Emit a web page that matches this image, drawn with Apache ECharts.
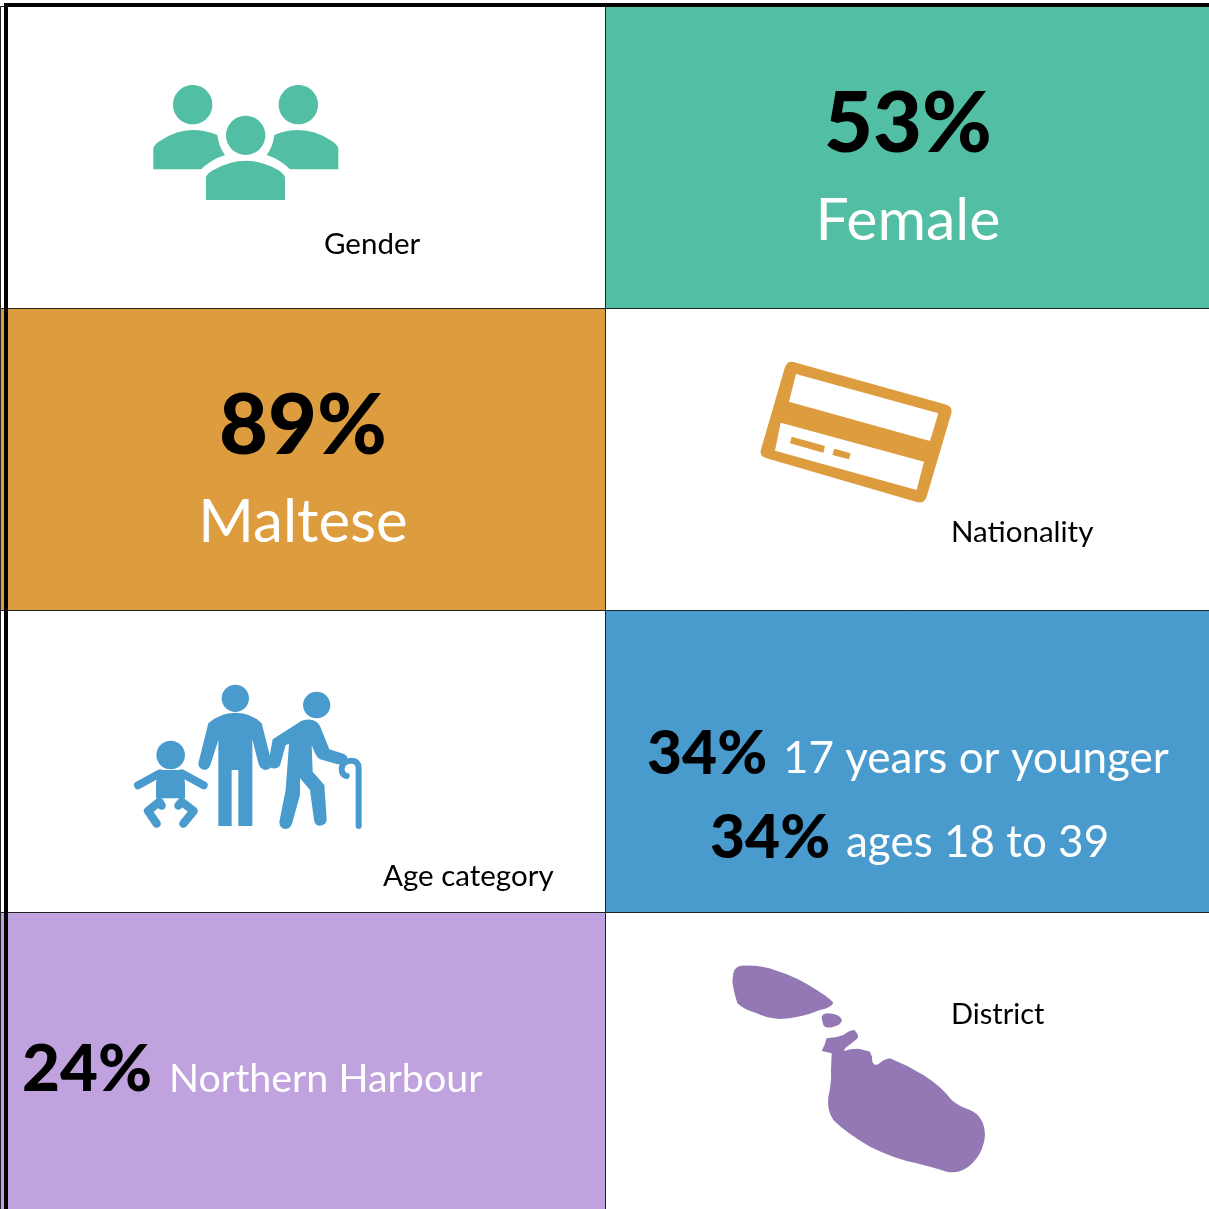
<!DOCTYPE html>
<html>
<head>
<meta charset="utf-8">
<title>Profile infographic</title>
<style>
  html, body { margin: 0; padding: 0; background: #fff; }
  #main { width: 1209px; height: 1209px; }
</style>
<script src="https://cdn.jsdelivr.net/npm/echarts@6/dist/echarts.min.js"></script>
</head>
<body>
<div id="main"></div>
<script>
// values
const categories = ['Gender', 'Nationality', 'Age category', 'District'];
const headlineValues = [53, 89];
const headlineNames = ['Female', 'Maltese'];
const ageValues = [34, 34];
const ageNames = ['17 years or younger', 'ages 18 to 39'];
const districtValues = [24];
const districtNames = ['Northern Harbour'];

// cell order in the table: [column, row]
const cellColumns = [0, 1, 0, 1, 0, 1, 0, 1];
const cellRows = [0, 0, 1, 1, 2, 2, 3, 3];

const GREEN = '#52bea3';
const ORANGE = '#dd9c3d';
const BLUE = '#4a9bcd';
const LILAC = '#bfa2de';
const PURPLE = '#9478b4';
const cellFill = ['#fff', GREEN, ORANGE, '#fff', '#fff', BLUE, LILAC, '#fff'];

const FONT = 'Lato, sans-serif';

// y is the text baseline; zrender centres on the line box so shift up to it
function label(text, x, y, size, color, weight, align) {
  return {
    type: 'text', z: 10, x: x, y: y - size * 0.33,
    style: {
      text: text, fill: color, font: (weight || 'normal') + ' ' + size + 'px ' + FONT,
      align: align || 'left', verticalAlign: 'middle'
    }
  };
}

// icons are traced at 3x, so they are scaled down by a third
function icon(x, y, children) {
  return { type: 'group', x: x, y: y, scaleX: 1 / 3, scaleY: 1 / 3, children: children };
}
function shape(d, fill) {
  return { type: 'path', shape: { pathData: d }, style: { fill: fill } };
}
function stroke(d, color, w) {
  return { type: 'path', shape: { pathData: d }, style: { fill: 'none', stroke: color, lineWidth: w, lineCap: 'round', lineJoin: 'round' } };
}
function disc(cx, cy, rx, ry, fill) {
  return { type: 'ellipse', shape: { cx: cx, cy: cy, rx: rx, ry: ry }, style: { fill: fill } };
}

const genderIcon = icon(120, 60, [
  disc(218, 134, 59, 59, GREEN), disc(535, 134, 59, 59, GREEN), disc(377, 226, 59, 59, GREEN),
  shape('M100 328 L100 265 Q105 250 125 240 Q170 210 218 210 Q255 210 292 225 Q296 260 315 285 Q275 298 243 328 Z', GREEN),
  shape('M655 328 L655 265 Q650 250 630 240 Q585 210 535 210 Q498 210 463 225 Q459 260 440 285 Q480 298 510 328 Z', GREEN),
  shape('M258 420 L258 352 Q262 338 285 328 Q330 302 377 302 Q425 302 470 328 Q490 338 495 352 L495 420 Z', GREEN)
]);

const cardIcon = icon(740, 350, [
  shape('M160 36 L615 163 Q640 170 634 190 L560 440 Q553 462 530 456 L80 325 Q55 318 64 295 L133 58 Q140 30 160 36 Z ' +
    'M168 72 L147 155 L570 273 L595 190 Z M122 218 L105 302 L530 420 L552 335 Z ' +
    'M155 260 L255 288 L250 308 L150 280 Z M283 296 L332 310 L327 328 L277 315 Z', ORANGE)
]);

const ageIcon = icon(120, 670, [
  // adult
  disc(346, 85, 41, 41, BLUE),
  shape('M265 160 Q300 128 346 128 Q395 128 425 160 L455 278 Q456 298 436 300 Q420 298 415 280 L397 207 L397 468 L355 468 L355 300 L335 300 L335 468 L295 468 L295 210 L273 280 Q268 298 255 300 Q235 298 235 280 Z', BLUE),
  // elder and cane
  disc(590, 105, 41, 40, BLUE),
  shape('M458 208 L545 152 Q585 140 600 168 L628 238 L672 252 Q690 262 678 278 Q665 285 650 282 L600 268 Q590 262 585 250 L575 225 L578 305 L613 345 L620 448 Q620 465 600 467 Q585 468 582 450 L570 360 L540 325 L540 375 L517 458 Q512 476 497 477 Q478 475 478 455 L497 360 L507 222 L497 225 L482 280 Q480 292 468 295 Q445 298 445 280 Z', BLUE),
  stroke('M716 468 L716 295 Q716 272 695 272 Q668 272 665 295 Q665 316 680 318', BLUE, 18),
  // baby
  disc(152, 255, 43, 43, BLUE),
  shape('M115 300 L190 300 L195 340 L195 385 L108 385 L108 340 Z', BLUE),
  stroke('M120 310 L54 346', BLUE, 24),
  stroke('M185 310 L251 346', BLUE, 24),
  stroke('M125 407 L118 395 L84 423 L110 461', BLUE, 25),
  stroke('M175 407 L185 395 L221 423 L190 461', BLUE, 25)
]);

const maltaIcon = icon(720, 950, [
  shape('M40 70 Q45 45 75 47 Q120 45 170 62 Q230 80 290 120 Q330 145 340 158 Q335 172 300 180 Q240 205 180 207 Q140 205 110 190 Q70 178 52 160 Q40 120 37 95 Z', PURPLE),
  shape('M305 205 Q305 190 325 190 Q360 192 366 210 Q365 225 335 232 Q315 235 310 225 Z', PURPLE),
  shape('M320 265 Q345 265 370 255 Q390 240 403 240 Q418 255 413 265 Q395 280 375 295 L372 303 Q395 295 420 297 L450 305 Q458 320 457 335 Q462 348 475 343 Q490 328 510 325 Q560 345 610 375 Q665 410 695 450 Q715 468 750 480 Q793 498 795 555 Q790 615 745 650 Q715 672 680 665 Q630 650 590 640 Q520 625 450 590 Q380 550 340 510 Q320 480 325 440 Q335 400 333 360 L335 310 L305 303 Q315 285 320 265 Z', PURPLE)
]);

const icons = [genderIcon, cardIcon, ageIcon, maltaIcon];

const texts = [
  label(categories[0], 324, 254, 29.5, '#000'),
  label(categories[1], 951, 542, 29.5, '#000'),
  label(categories[2], 383, 886, 29.5, '#000'),
  label(categories[3], 951, 1024, 29, '#000'),
  label(headlineValues[0] + '%', 908, 153, 84.5, '#000', '900', 'center'),
  label(headlineNames[0], 908, 240, 59, '#fff', 'normal', 'center'),
  label(headlineValues[1] + '%', 303, 455, 84.5, '#000', '900', 'center'),
  label(headlineNames[1], 303, 542, 60, '#fff', 'normal', 'center'),
  label(ageValues[0] + '%', 647, 774, 60.5, '#000', '900'),
  label(ageNames[0], 783, 773, 44, '#fff'),
  label(ageValues[1] + '%', 710, 858, 60.5, '#000', '900'),
  label(ageNames[1], 846, 857, 44, '#fff'),
  label(districtValues[0] + '%', 22, 1091, 65.5, '#000', '900'),
  label(districtNames[0], 169, 1092, 39.4, '#fff')
];

// heavy frame along the top and the left edge
const frame = [
  { type: 'rect', z: 9, shape: { x: 4, y: 3, width: 1205, height: 4 }, style: { fill: '#000' } },
  { type: 'rect', z: 9, shape: { x: 4, y: 3, width: 4, height: 1206 }, style: { fill: '#000' } }
];

const chart = echarts.init(document.getElementById('main'), null, { renderer: 'canvas' });
chart.setOption({
  animation: false,
  grid: { left: 0.5, top: 6.5, width: 1210, height: 1208, outerBoundsMode: 'none' },
  xAxis: { type: 'value', min: 0, max: 2, show: false },
  yAxis: { type: 'value', min: 0, max: 4, inverse: true, show: false },
  series: [{
    type: 'custom',
    clip: false,
    z: 1,
    data: cellColumns.map(function (c, i) { return [c, cellRows[i], i]; }),
    encode: { x: 0, y: 1 },
    renderItem: function (params, api) {
      const col = api.value(0), row = api.value(1);
      const a = api.coord([col, row]), b = api.coord([col + 1, row + 1]);
      return {
        type: 'rect',
        shape: { x: a[0], y: a[1], width: b[0] - a[0], height: b[1] - a[1] },
        style: { fill: cellFill[api.value(2)], stroke: '#222', lineWidth: 1 }
      };
    }
  }, {
    // the four pictograms
    type: 'custom',
    clip: false,
    z: 3,
    coordinateSystem: 'none',
    data: categories,
    renderItem: function (params) {
      return icons[params.dataIndex];
    }
  }],
  graphic: { elements: frame.concat(texts) }
});
</script>
</body>
</html>
